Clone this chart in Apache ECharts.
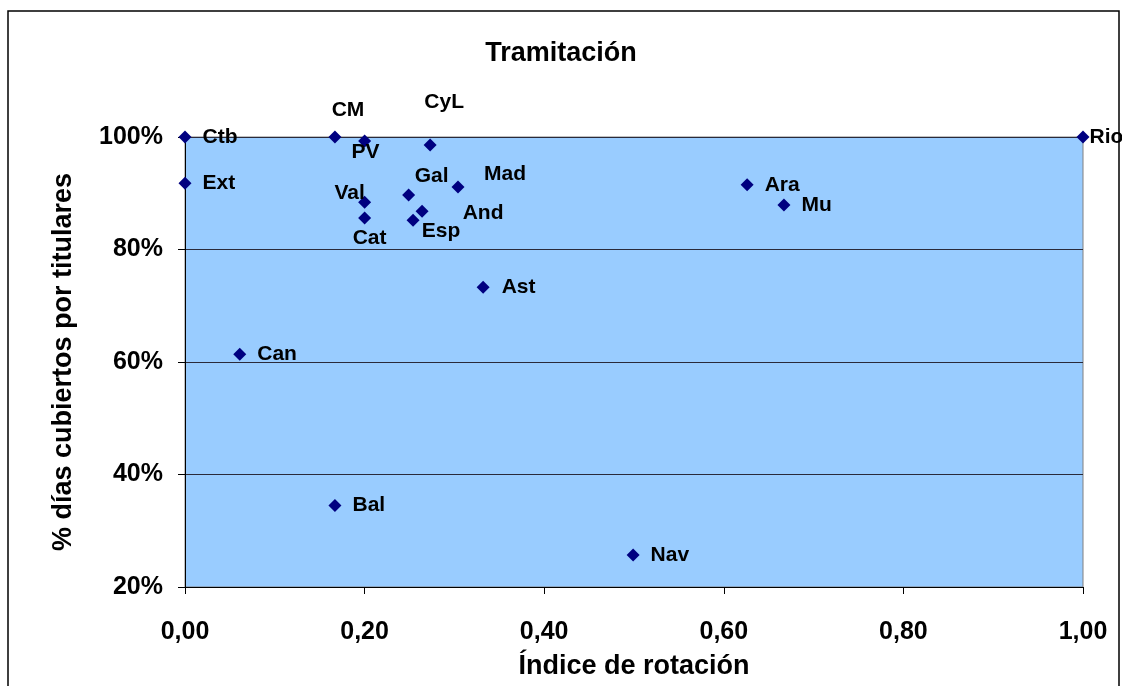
<!DOCTYPE html>
<html><head><meta charset="utf-8">
<script src="https://cdn.jsdelivr.net/npm/echarts@6/dist/echarts.min.js"></script>
<style>html,body{margin:0;padding:0;background:#fff}#c{width:1122px;height:686px}</style>
</head><body><div id="c"></div>
<script>
const names = ['Ctb','Ext','CM','PV','CyL','Gal','Mad','Val','Cat','And','Esp','Ast','Can','Bal','Nav','Ara','Mu','Rio'];
const rotacion = [0.000,0.000,0.167,0.200,0.273,0.249,0.304,0.200,0.200,0.264,0.254,0.332,0.061,0.167,0.499,0.626,0.667,1.000];
const cobertura = [1.000,0.918,1.000,0.993,0.986,0.897,0.911,0.884,0.856,0.868,0.852,0.733,0.614,0.345,0.257,0.915,0.879,1.000];
const xTicks = [0,0.2,0.4,0.6,0.8,1.0];
const yTicks = [0.2,0.4,0.6,0.8,1.0];

// label placement (layout only): centre offset [dx, dy] from point, or 'right' with distance
const labelPlacement = {
  Ctb:{pos:'right',d:11}, Ext:{pos:'right',d:11}, CM:{off:[13,-27]}, PV:{off:[1,11]},
  CyL:{off:[14,-43]}, Gal:{off:[23,-19]}, Mad:{off:[47,-13]}, Val:{off:[-15,-9]},
  Cat:{off:[5,20]}, And:{off:[61,2]}, Esp:{off:[28,11]}, Ast:{pos:'right',d:12},
  Can:{pos:'right',d:11}, Bal:{pos:'right',d:11}, Nav:{pos:'right',d:11},
  Ara:{pos:'right',d:11}, Mu:{pos:'right',d:11}, Rio:{pos:'right',d:0}
};

const FONT = '"Liberation Sans", Arial, sans-serif';
const SYM = 13;
const data = names.map((n,i)=>{
  const p = labelPlacement[n];
  const label = p.off
    ? {position:[SYM/2+p.off[0], SYM/2+p.off[1]], align:'center', verticalAlign:'middle'}
    : {position:p.pos, distance:p.d};
  return {name:n, value:[rotacion[i], cobertura[i]], label};
});

const chart = echarts.init(document.getElementById('c'), null, {renderer:'canvas'});
chart.setOption({
  animation:false,
  backgroundColor:'#fff',
  title:{text:'Tramitación', left:'center', top:35, textStyle:{fontFamily:FONT, fontWeight:'bold', fontSize:27, color:'#000'}},
  graphic:[{type:'rect', shape:{x:8, y:11, width:1111, height:700}, style:{fill:'none', stroke:'#000', lineWidth:1.5}, silent:true}],
  grid:{left:185, right:39, top:137, bottom:99, outerBoundsMode:'none', containLabel:false,
    show:true, backgroundColor:'#99CCFF', borderColor:'#808080', borderWidth:1},
  xAxis:{type:'value', min:0, max:1, interval:0.2,
    name:'Índice de rotación', nameLocation:'middle', nameGap:66,
    nameTextStyle:{fontFamily:FONT, fontWeight:'bold', fontSize:27, color:'#000'},
    axisLine:{show:true, onZero:false, lineStyle:{color:'#000', width:1}},
    axisTick:{show:true, inside:false, length:7, lineStyle:{color:'#000'}},
    splitLine:{show:false},
    axisLabel:{margin:33, fontFamily:FONT, fontWeight:'bold', fontSize:25, color:'#000',
      formatter:v=>v.toFixed(2).replace('.',',')}
  },
  yAxis:{type:'value', min:0.2, max:1.0, interval:0.2,
    name:'% días cubiertos por titulares', nameLocation:'middle', nameGap:108, nameRotate:90,
    nameTextStyle:{fontFamily:FONT, fontWeight:'bold', fontSize:27, color:'#000'},
    axisLine:{show:true, onZero:false, lineStyle:{color:'#000', width:1}},
    axisTick:{show:true, inside:false, length:7, lineStyle:{color:'#000'}},
    splitLine:{show:true, lineStyle:{color:'#2a2a3a', width:1}},
    axisLabel:{margin:22, fontFamily:FONT, fontWeight:'bold', fontSize:25, color:'#000',
      formatter:v=>Math.round(v*100)+'%'}
  },
  series:[{type:'scatter', symbol:'diamond', symbolSize:SYM, clip:false,
    itemStyle:{color:'#000080', opacity:1},
    label:{show:true, formatter:p=>p.name, fontFamily:FONT, fontWeight:'bold', fontSize:21, color:'#000'},
    emphasis:{disabled:true},
    labelLayout:{hideOverlap:false},
    data
  }]
});
</script></body></html>
